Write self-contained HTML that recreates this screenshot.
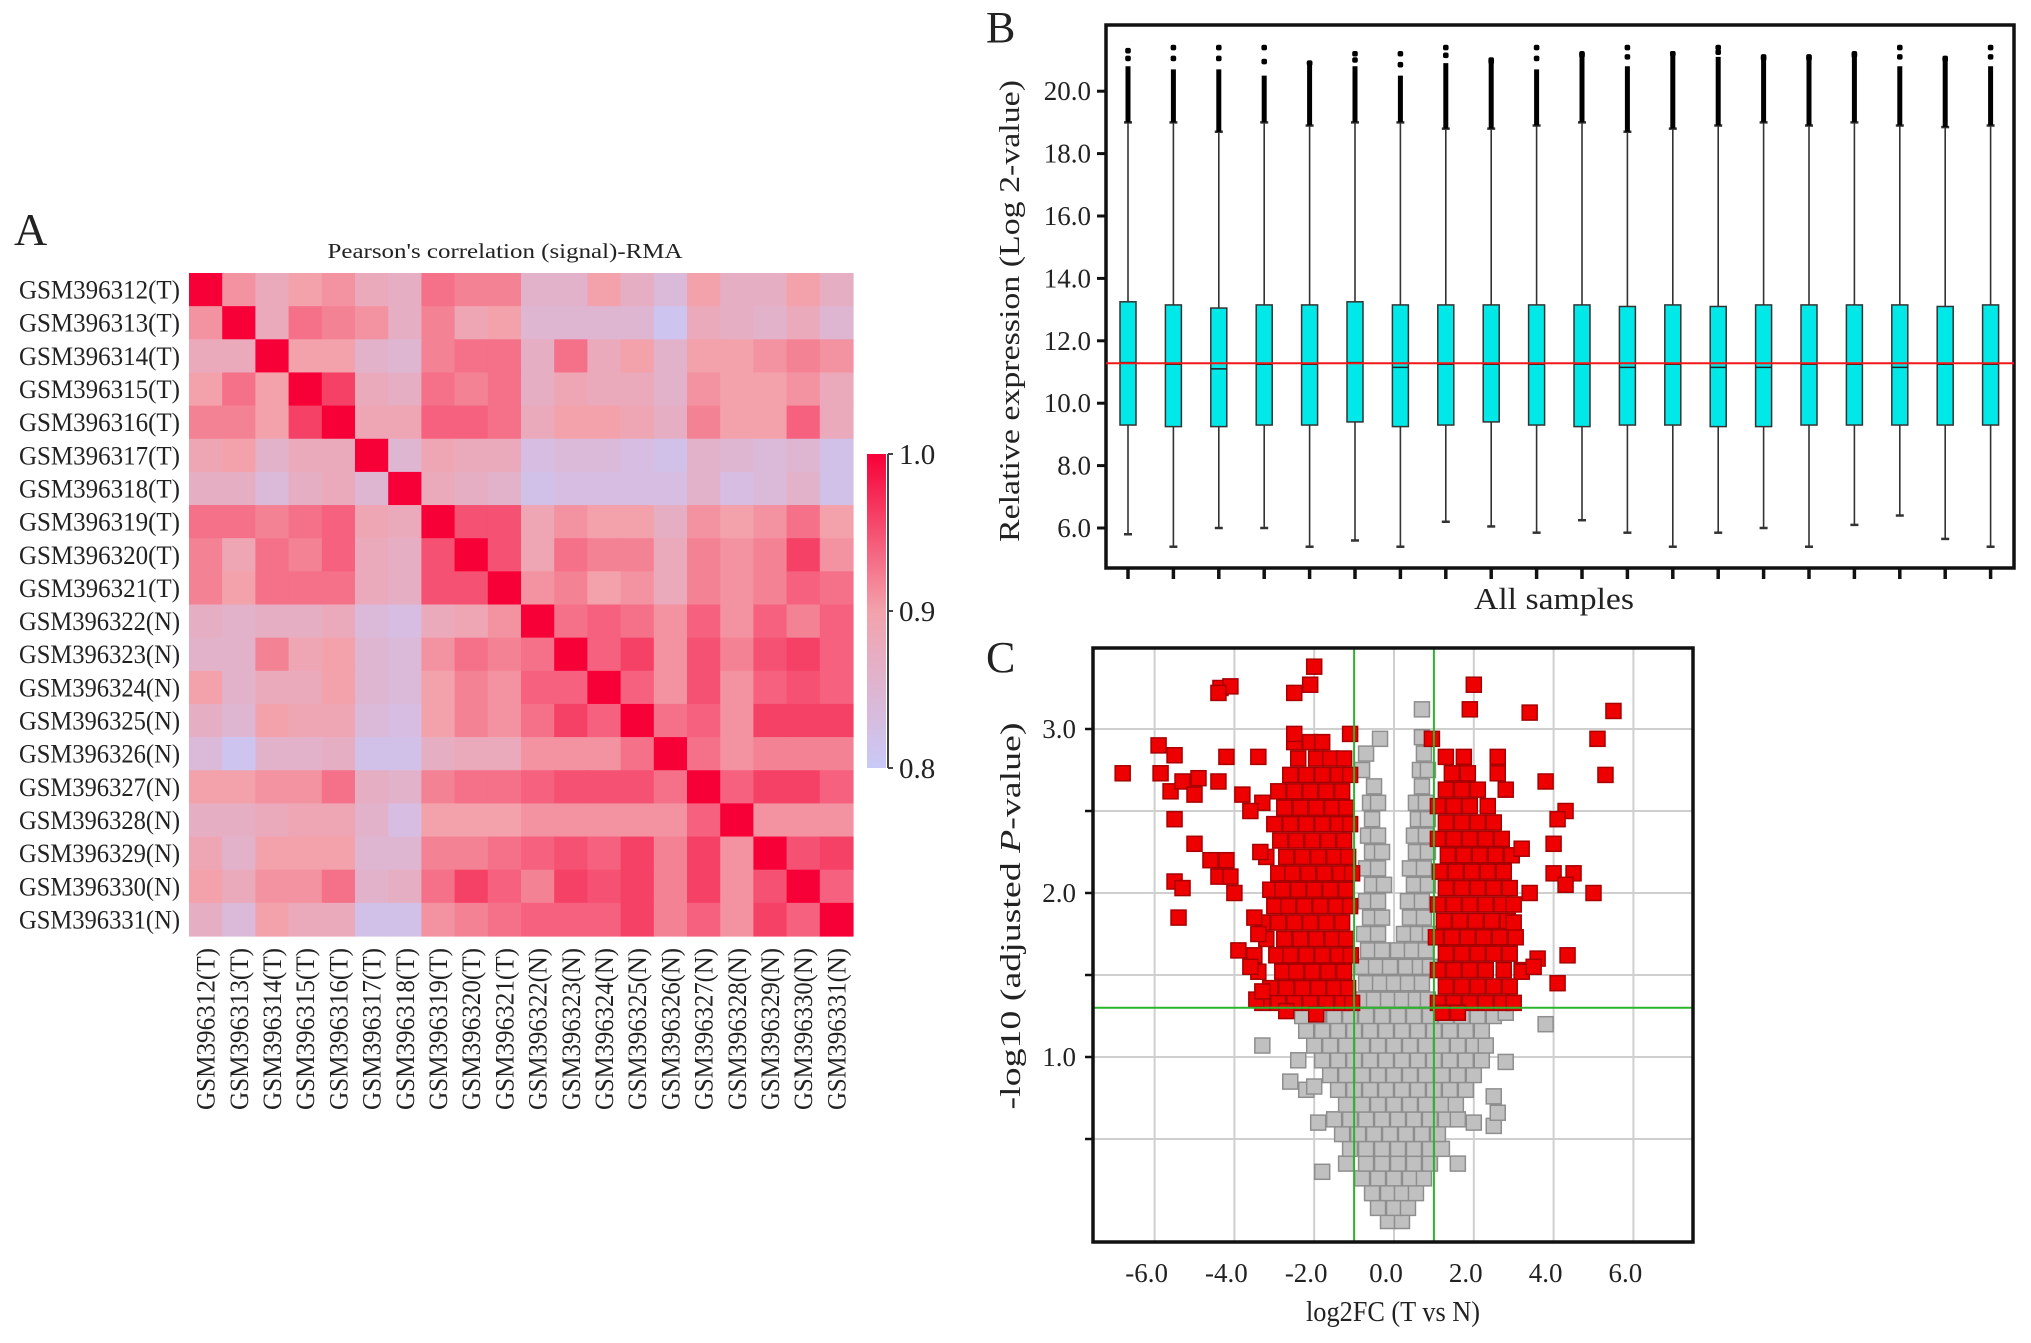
<!DOCTYPE html>
<html><head><meta charset="utf-8"><title>Figure</title>
<style>
html,body{margin:0;padding:0;background:#fff;}
svg{display:block;font-family:"Liberation Serif",serif;}
</style></head>
<body>
<svg id="fig" xmlns="http://www.w3.org/2000/svg" width="2031" height="1343" viewBox="0 0 2031 1343">
<rect x="0" y="0" width="2031" height="1343" fill="#fff"/>
<g id="pA"></g>
<g id="pB"></g>
<g id="pC"></g>
</svg>
<script>
// ===== Panel A data =====
const sampleLabels = ["GSM396312(T)","GSM396313(T)","GSM396314(T)","GSM396315(T)","GSM396316(T)","GSM396317(T)","GSM396318(T)","GSM396319(T)","GSM396320(T)","GSM396321(T)","GSM396322(N)","GSM396323(N)","GSM396324(N)","GSM396325(N)","GSM396326(N)","GSM396327(N)","GSM396328(N)","GSM396329(N)","GSM396330(N)","GSM396331(N)"];
const corrMatrix = [
[100,91,88,90,91,88,87,93,92,92,86,86,90,87,84,90,87,87,90,87],
[91,100,88,93,92,91,87,92,89,90,85,85,85,85,81,88,87,86,88,85],
[88,88,100,90,90,86,85,92,93,93,87,93,88,90,86,90,90,91,92,91],
[90,93,90,100,96,88,87,93,92,93,87,89,88,88,86,91,90,90,91,88],
[92,92,90,96,100,89,89,94,94,93,88,90,90,89,87,92,90,90,94,88],
[89,90,86,88,88,100,85,89,88,88,83,84,84,83,82,86,85,84,85,82],
[87,87,84,87,88,85,100,88,87,86,82,83,83,83,83,86,83,84,86,82],
[93,93,92,93,94,89,88,100,95,95,89,91,90,90,87,91,90,91,93,90],
[92,89,93,92,94,88,87,95,100,95,89,93,92,92,88,92,91,92,96,91],
[92,90,93,93,93,88,87,95,95,100,91,92,90,91,88,92,91,92,94,93],
[87,86,87,87,88,84,83,88,89,91,100,93,94,93,91,94,91,94,92,94],
[86,86,92,89,90,85,84,91,93,92,93,100,94,96,91,95,92,95,96,94],
[90,86,88,88,90,85,84,90,92,91,94,94,100,94,91,95,91,94,95,94],
[87,85,90,89,89,84,83,90,92,91,93,96,94,100,93,94,91,96,96,96],
[84,81,86,86,87,82,82,87,88,88,91,91,91,93,100,93,91,92,92,92],
[90,90,91,91,93,87,86,92,93,93,94,95,95,95,93,100,94,96,96,94],
[87,87,88,89,89,86,83,90,90,90,91,91,91,91,91,94,100,91,91,91],
[89,86,90,90,90,85,85,92,92,93,94,95,94,96,92,96,91,100,95,96],
[90,88,91,91,93,86,87,93,96,94,92,96,95,96,92,96,91,95,100,94],
[87,84,90,88,88,82,82,91,92,93,94,94,94,96,92,94,91,96,94,100]];
const colorbarTicks = [1.0, 0.9, 0.8];

// ===== Panel B data =====
const bQ1 = [9.3,9.25,9.25,9.3,9.3,9.4,9.25,9.3,9.4,9.3,9.25,9.3,9.3,9.25,9.25,9.3,9.3,9.3,9.3,9.3];
const bQ3 = [13.25,13.15,13.05,13.15,13.15,13.25,13.15,13.15,13.15,13.15,13.15,13.1,13.15,13.1,13.15,13.15,13.15,13.15,13.1,13.15];
const bMedian = [11.3,11.25,11.1,11.25,11.25,11.3,11.15,11.25,11.25,11.25,11.25,11.15,11.25,11.15,11.15,11.25,11.25,11.15,11.25,11.25];
const bWhiskLow = [5.8,5.4,6.0,6.0,5.4,5.6,5.4,6.2,6.05,5.85,6.25,5.85,5.4,5.85,6.0,5.4,6.1,6.4,5.65,5.4];
const bWhiskHigh = [19.0,19.0,18.7,19.0,18.9,19.0,19.0,18.8,18.8,18.9,19.0,18.7,18.8,18.9,19.0,18.9,19.0,18.9,18.85,18.9];
const bOutDense = [20.8,20.7,20.7,20.5,20.9,20.8,20.5,20.9,20.9,20.7,21.1,20.8,21.2,21.1,21.0,21.0,21.1,20.8,21.0,20.8];
const bOutMax = [21.3,21.4,21.4,21.4,20.9,21.2,21.2,21.4,21.0,21.4,21.2,21.4,21.2,21.4,21.1,21.1,21.2,21.4,21.05,21.4];
const bRefLine = 11.28;
const bYTicks = [6.0,8.0,10.0,12.0,14.0,16.0,18.0,20.0];

// ===== Panel C data =====
const cXTicks = [-6,-4,-2,0,2,4,6];
const cYTicks = [1.0,2.0,3.0];
const cYGrid = [0.5,1.0,1.5,2.0,2.5,3.0];
const cFcCut = [-1, 1];
const cPCut = 1.3;
const grayPoints = [
[-0.15,0.0],[0.2,0.0],
[-0.4,0.08],[0.0,0.08],[0.35,0.08],
[-0.55,0.17],[-0.15,0.17],[0.2,0.17],[0.55,0.17],
[-0.8,0.26],[-0.4,0.26],[0.0,0.26],[0.4,0.26],[0.75,0.26],
[-1.2,0.35],[-0.7,0.35],[-0.3,0.35],[0.1,0.35],[0.5,0.35],[0.9,0.35],[1.6,0.35],[-1.8,0.3],
[-1.1,0.44],[-0.7,0.44],[-0.3,0.44],[0.1,0.44],[0.5,0.44],[0.9,0.44],[1.2,0.44],
[-1.3,0.53],[-0.9,0.53],[-0.5,0.53],[-0.1,0.53],[0.3,0.53],[0.7,0.53],[1.1,0.53],[2.5,0.58],
[-1.5,0.62],[-1.1,0.62],[-0.7,0.62],[-0.3,0.62],[0.1,0.62],[0.5,0.62],[0.9,0.62],[1.3,0.62],[1.6,0.62],[-1.9,0.6],[2.0,0.6],[2.6,0.66],
[-1.2,0.71],[-0.8,0.71],[-0.4,0.71],[0.0,0.71],[0.4,0.71],[0.8,0.71],[1.2,0.71],[1.55,0.71],[2.5,0.76],
[-2.2,0.8],[-1.4,0.8],[-1.0,0.8],[-0.6,0.8],[-0.2,0.8],[0.2,0.8],[0.6,0.8],[1.0,0.8],[1.4,0.8],[1.8,0.8],[-2.6,0.85],[-2.0,0.82],
[-1.6,0.89],[-1.2,0.89],[-0.8,0.89],[-0.4,0.89],[0.0,0.89],[0.4,0.89],[0.8,0.89],[1.2,0.89],[1.6,0.89],[2.0,0.89],
[-2.4,0.98],[-1.8,0.98],[-1.4,0.98],[-1.0,0.98],[-0.6,0.98],[-0.2,0.98],[0.2,0.98],[0.6,0.98],[1.0,0.98],[1.4,0.98],[1.8,0.98],[2.2,0.98],[2.8,0.97],
[-3.3,1.07],[-2.0,1.07],[-1.6,1.07],[-1.2,1.07],[-0.8,1.07],[-0.4,1.07],[0.0,1.07],[0.4,1.07],[0.8,1.07],[1.2,1.07],[1.6,1.07],[2.0,1.07],[2.3,1.07],
[-2.2,1.16],[-1.8,1.16],[-1.4,1.16],[-1.0,1.16],[-0.6,1.16],[-0.2,1.16],[0.2,1.16],[0.6,1.16],[1.0,1.16],[1.4,1.16],[1.8,1.16],[2.2,1.16],[3.8,1.2],
[-2.3,1.25],[-1.9,1.25],[-1.5,1.25],[-1.1,1.25],[-0.7,1.25],[-0.3,1.25],[0.1,1.25],[0.5,1.25],[0.9,1.25],[1.3,1.25],[1.7,1.25],[2.1,1.25],[2.5,1.25],[2.8,1.27],
[-0.85,1.35],[-0.5,1.35],[-0.15,1.35],[0.2,1.35],[0.55,1.35],[0.85,1.35],
[-0.7,1.45],[-0.35,1.45],[0.0,1.45],[0.35,1.45],[0.7,1.45],
[-0.8,1.55],[-0.45,1.55],[-0.1,1.55],[0.3,1.55],[0.65,1.55],[0.9,1.55],
[-0.65,1.65],[-0.3,1.65],[0.1,1.65],[0.45,1.65],[0.8,1.65],
[-0.75,1.75],[-0.4,1.75],[0.25,1.75],[0.6,1.75],[0.9,1.75],
[-0.6,1.85],[-0.3,1.85],[0.4,1.85],[0.75,1.85],
[-0.7,1.95],[-0.4,1.95],[0.35,1.95],[0.7,1.95],
[-0.55,2.05],[-0.25,2.05],[0.5,2.05],[0.85,2.05],
[-0.7,2.15],[-0.4,2.15],[0.4,2.15],[0.75,2.15],
[-0.55,2.25],[-0.3,2.25],[0.55,2.25],[0.85,2.25],
[-0.65,2.35],[-0.4,2.35],[0.5,2.35],[0.8,2.35],
[-0.55,2.45],[0.6,2.45],[0.85,2.45],
[-0.6,2.55],[-0.4,2.55],[0.55,2.55],[0.8,2.55],
[-0.5,2.65],[0.7,2.65],
[-0.8,2.75],[0.65,2.75],[0.85,2.75],
[-0.7,2.85],[0.75,2.85],
[-0.35,2.94],[0.7,2.95],[0.7,3.12]];
const redPoints = [
[-3.3,1.33],[-2.9,1.33],[-2.5,1.33],[-2.1,1.33],[-1.7,1.33],[-1.3,1.33],[-1.05,1.33],
[-3.1,1.42],[-2.7,1.42],[-2.3,1.42],[-1.9,1.42],[-1.5,1.42],[-1.15,1.42],
[-3.4,1.52],[-2.8,1.52],[-2.45,1.52],[-2.05,1.52],[-1.65,1.52],[-1.25,1.52],
[-3.5,1.62],[-2.95,1.62],[-2.6,1.62],[-2.2,1.62],[-1.8,1.62],[-1.4,1.62],[-1.08,1.62],
[-3.2,1.72],[-2.75,1.72],[-2.35,1.72],[-1.95,1.72],[-1.55,1.72],[-1.2,1.72],
[-3.3,1.82],[-2.9,1.82],[-2.5,1.82],[-2.1,1.82],[-1.7,1.82],[-1.3,1.82],
[-3.0,1.92],[-2.65,1.92],[-2.25,1.92],[-1.85,1.92],[-1.45,1.92],[-1.1,1.92],
[-3.1,2.02],[-2.8,2.02],[-2.4,2.02],[-2.0,2.02],[-1.6,2.02],[-1.2,2.02],
[-2.9,2.12],[-2.55,2.12],[-2.15,2.12],[-1.75,2.12],[-1.35,2.12],[-1.05,2.12],
[-3.2,2.22],[-2.7,2.22],[-2.3,2.22],[-1.9,2.22],[-1.5,2.22],[-1.15,2.22],
[-2.85,2.32],[-2.45,2.32],[-2.05,2.32],[-1.65,2.32],[-1.25,2.32],
[-3.0,2.42],[-2.6,2.42],[-2.2,2.42],[-1.8,2.42],[-1.4,2.42],[-1.1,2.42],
[-2.75,2.52],[-2.35,2.52],[-1.95,2.52],[-1.55,2.52],[-1.2,2.52],
[-2.9,2.62],[-2.5,2.62],[-2.1,2.62],[-1.7,2.62],[-1.3,2.62],
[-2.6,2.72],[-2.2,2.72],[-1.8,2.72],[-1.4,2.72],[-1.1,2.72],
[-2.4,2.82],[-1.95,2.82],[-1.6,2.82],[-1.25,2.82],
[-2.5,2.92],[-2.1,2.92],[-1.8,2.92],
[-6.8,2.73],[-5.9,2.9],[-5.5,2.84],[-5.85,2.73],[-5.6,2.62],[-5.3,2.68],[-4.9,2.7],[-5.0,2.6],[-5.5,2.45],[-5.0,2.3],
[-4.6,2.2],[-4.4,2.1],[-4.2,2.2],[-5.5,2.07],[-5.3,2.03],[-5.4,1.85],[-4.0,2.0],[-4.1,2.1],[-3.9,1.65],[-3.6,1.55],
[-3.8,2.6],[-4.4,2.68],[-4.2,2.83],[-3.4,2.83],[-4.35,3.25],[-4.1,3.26],[-4.4,3.22],[-2.5,3.22],[-2.1,3.27],[-2.0,3.38],
[-2.5,2.97],[-1.1,2.97],[-3.3,2.55],[-3.6,2.5],[-3.35,2.25],[-3.5,1.85],[-3.4,1.75],[-3.45,1.35],[-3.3,1.4],[-2.7,1.28],[-1.95,1.26],
[1.1,1.33],[1.5,1.33],[1.9,1.33],[2.3,1.33],[2.7,1.33],[3.0,1.33],
[1.3,1.43],[1.7,1.43],[2.1,1.43],[2.5,1.43],[2.9,1.43],
[1.1,1.53],[1.5,1.53],[1.9,1.53],[2.3,1.53],[2.75,1.53],[3.2,1.53],
[1.3,1.63],[1.7,1.63],[2.1,1.63],[2.5,1.63],[2.9,1.63],
[1.05,1.73],[1.45,1.73],[1.85,1.73],[2.25,1.73],[2.65,1.73],[3.05,1.73],
[1.25,1.83],[1.65,1.83],[2.05,1.83],[2.45,1.83],[2.85,1.83],
[1.1,1.93],[1.5,1.93],[1.9,1.93],[2.3,1.93],[2.7,1.93],[3.0,1.93],
[1.3,2.03],[1.7,2.03],[2.1,2.03],[2.5,2.03],[2.9,2.03],
[1.15,2.13],[1.55,2.13],[1.95,2.13],[2.35,2.13],[2.75,2.13],
[1.35,2.23],[1.75,2.23],[2.15,2.23],[2.55,2.23],[2.95,2.23],
[1.1,2.33],[1.5,2.33],[1.9,2.33],[2.3,2.33],[2.7,2.33],
[1.3,2.43],[1.7,2.43],[2.1,2.43],[2.5,2.43],
[1.1,2.53],[1.5,2.53],[1.9,2.53],[2.35,2.53],
[1.3,2.63],[1.7,2.63],[2.1,2.63],[2.8,2.63],
[1.45,2.73],[1.85,2.73],[2.6,2.73],
[1.3,2.83],[1.75,2.83],[2.6,2.83],
[0.95,2.94],[1.9,3.12],[2.0,3.27],[3.4,3.1],[5.5,3.11],[5.1,2.94],[5.3,2.72],[3.8,2.68],[4.3,2.5],[4.1,2.45],
[4.0,2.3],[4.0,2.12],[4.5,2.12],[4.3,2.05],[5.0,2.0],[3.4,2.0],[3.6,1.6],[4.35,1.62],[4.1,1.45],[3.2,1.52],
[3.5,1.55],[3.0,1.82],[3.2,2.27],[1.2,1.27],[1.6,1.27]];

const NS = "http://www.w3.org/2000/svg";
function mk(tag, parent, attrs) {
  const e = document.createElementNS(NS, tag);
  for (const k in attrs) e.setAttribute(k, attrs[k]);
  parent.appendChild(e);
  return e;
}
function txt(parent, x, y, s, size, anchor, extra) {
  const t = mk("text", parent, Object.assign({x:x, y:y, "font-size":size, "text-anchor":anchor||"start", fill:"#222"}, extra||{}));
  t.textContent = s;
  return t;
}
const svg = document.getElementById("fig");

// ===== Panel letters =====
let L;
L = txt(svg, 14, 245, "A", 46);


L = txt(svg, 986, 42, "B", 44);


L = txt(svg, 986, 672, "C", 44);



// ===== Panel A =====
(function(){
  const g = document.getElementById("pA");
  const hx0 = 189, hy0 = 273, hx1 = 853, hy1 = 936;
  const n = sampleLabels.length;
  const cw = (hx1 - hx0) / n, ch = (hy1 - hy0) / n;
  const c08=[201,201,247], c09=[243,162,172], c10=[247,0,56];
  function colorOf(v){
    let t = Math.max(0, Math.min(1, (v - 0.8) / 0.2));
    let a, b, f;
    if (t < 0.5) { a = c08; b = c09; f = t / 0.5; } else { a = c09; b = c10; f = (t - 0.5) / 0.5; }
    const c = a.map((x,i) => Math.round(x + (b[i]-x)*f));
    return "rgb(" + c.join(",") + ")";
  }
  const title = txt(g, 505, 258, "Pearson's correlation (signal)-RMA", 21, "middle", {textLength:355, lengthAdjust:"spacingAndGlyphs"});
  
  
  for (let r = 0; r < n; r++) {
    for (let c = 0; c < n; c++) {
      const cell = mk("rect", g, {x: hx0 + c*cw, y: hy0 + r*ch, width: cw + 0.6, height: ch + 0.6, fill: colorOf(corrMatrix[r][c] / 100)});
      
      
    }
  }
  for (let i = 0; i < n; i++) {
    const rl = txt(g, 180, hy0 + (i + 0.5)*ch + 9, sampleLabels[i], 26, "end", {textLength:161, lengthAdjust:"spacingAndGlyphs"});
    
    
    const cx = hx0 + (i + 0.5)*cw + 9;
    const cl = txt(g, cx, 948, sampleLabels[i], 26, "end", {textLength:162, lengthAdjust:"spacingAndGlyphs", transform:"rotate(-90 " + cx + " 948)"});
    
    
  }
  const by0 = 454, by1 = 768, bx = 867, bw = 19;
  const defs = mk("defs", g, {});
  const grad = mk("linearGradient", defs, {id:"cbGrad", x1:0, y1:0, x2:0, y2:1});
  mk("stop", grad, {offset:"0", "stop-color":colorOf(1.0)});
  mk("stop", grad, {offset:"0.5", "stop-color":colorOf(0.9)});
  mk("stop", grad, {offset:"1", "stop-color":colorOf(0.8)});
  const cb = mk("rect", g, {x:bx, y:by0, width:bw, height:by1-by0, fill:"url(#cbGrad)"});
  
  
  mk("line", g, {x1:bx+bw+2, y1:by0, x2:bx+bw+2, y2:by1, stroke:"#444", "stroke-width":2});
  colorbarTicks.forEach(v => {
    const y = by1 - (v - 0.8) / 0.2 * (by1 - by0);
    mk("line", g, {x1:bx+bw+2, y1:y, x2:bx+bw+7, y2:y, stroke:"#444", "stroke-width":2});
    const t = txt(g, 899, y + 10, v.toFixed(1), 29, "start");
    
    
  });
})();

// ===== Panel B =====
(function(){
  const g = document.getElementById("pB");
  const fx0 = 1106, fy0 = 25, fx1 = 2014, fy1 = 568;
  const yS = v => 528 - (v - 6) * 31.2;
  const xS = i => 1128 + i * 45.4;
  const frame = mk("rect", g, {x:fx0, y:fy0, width:fx1-fx0, height:fy1-fy0, fill:"none", stroke:"#111", "stroke-width":3.5});
  
  
  bYTicks.forEach(v => {
    mk("line", g, {x1:fx0-9, y1:yS(v), x2:fx0, y2:yS(v), stroke:"#111", "stroke-width":3});
    const t = txt(g, 1091, yS(v) + 9, v.toFixed(1), 27, "end");
    
    
  });
  const yt = txt(g, 0, 0, "Relative expression (Log 2-value)", 29, "middle", {textLength:462, lengthAdjust:"spacingAndGlyphs", transform:"translate(1019 311) rotate(-90)"});
  
  
  const xt = txt(g, 1554, 609, "All samples", 31, "middle", {textLength:160, lengthAdjust:"spacingAndGlyphs"});
  
  
  for (let i = 0; i < bQ1.length; i++) {
    const x = xS(i), hw = 8;
    const grp = mk("g", g, {});
    
    
    mk("line", grp, {x1:x, y1:fy1, x2:x, y2:fy1+11, stroke:"#111", "stroke-width":3.5});
    mk("line", grp, {x1:x, y1:yS(bWhiskLow[i]), x2:x, y2:yS(bWhiskHigh[i]), stroke:"#333", "stroke-width":1.6});
    mk("line", grp, {x1:x-4, y1:yS(bWhiskLow[i]), x2:x+4, y2:yS(bWhiskLow[i]), stroke:"#333", "stroke-width":2.5});
    mk("line", grp, {x1:x-4, y1:yS(bWhiskHigh[i]), x2:x+4, y2:yS(bWhiskHigh[i]), stroke:"#333", "stroke-width":2.5});
    mk("line", grp, {x1:x, y1:yS(bWhiskHigh[i]), x2:x, y2:yS(bOutDense[i]), stroke:"#000", "stroke-width":5});
    mk("rect", grp, {x:x-2.8, y:yS(bOutMax[i])-2.8, width:5.6, height:5.6, rx:2, fill:"#000"});
    mk("rect", grp, {x:x-2.8, y:(yS(bOutMax[i])+yS(bOutDense[i]))/2-2.8, width:5.6, height:5.6, rx:2, fill:"#000"});
    mk("rect", grp, {x:x-hw, y:yS(bQ3[i]), width:2*hw, height:yS(bQ1[i])-yS(bQ3[i]), fill:"#00e8e8", stroke:"#333", "stroke-width":1.5});
    mk("line", grp, {x1:x-hw, y1:yS(bMedian[i]), x2:x+hw, y2:yS(bMedian[i]), stroke:"#222", "stroke-width":1.5});
  }
  const ref = mk("line", g, {x1:fx0, y1:yS(bRefLine), x2:fx1, y2:yS(bRefLine), stroke:"#f01818", "stroke-width":2});
  
  
})();

// ===== Panel C =====
(function(){
  const g = document.getElementById("pC");
  const fx0 = 1093, fy0 = 648, fx1 = 1693, fy1 = 1242;
  const xS = v => 1394 + v * 39.9;
  const yS = v => 1057 - (v - 1) * 164;
  const clip = mk("clipPath", g, {id:"cClip"});
  mk("rect", clip, {x:fx0, y:fy0, width:fx1-fx0, height:fy1-fy0});
  const plot = mk("g", g, {"clip-path":"url(#cClip)"});
  cXTicks.forEach(v => {
    const gl = mk("line", plot, {x1:xS(v), y1:fy0, x2:xS(v), y2:fy1, stroke:"#cfcfcf", "stroke-width":2});
    
    
  });
  cYGrid.forEach(v => {
    const gl = mk("line", plot, {x1:fx0, y1:yS(v), x2:fx1, y2:yS(v), stroke:"#cfcfcf", "stroke-width":2});
    
    
    mk("line", g, {x1:fx0-8, y1:yS(v), x2:fx0, y2:yS(v), stroke:"#111", "stroke-width":2.5});
  });
  const sq = 15;
  grayPoints.forEach(p => {
    const r = mk("rect", plot, {x:xS(p[0])-sq/2, y:yS(p[1])-sq/2, width:sq, height:sq, fill:"#c0c0c0", stroke:"#8e8e8e", "stroke-width":1.5});
    
    
  });
  redPoints.forEach(p => {
    const r = mk("rect", plot, {x:xS(p[0])-sq/2, y:yS(p[1])-sq/2, width:sq, height:sq, fill:"#ee0000", stroke:"#a80000", "stroke-width":1.5});
    
    
  });
  cFcCut.forEach(v => {
    const l = mk("line", plot, {x1:xS(v), y1:fy0, x2:xS(v), y2:fy1, stroke:"#2cb52c", "stroke-width":2});
    
    
  });
  const hl = mk("line", plot, {x1:fx0, y1:yS(cPCut), x2:fx1, y2:yS(cPCut), stroke:"#2cb52c", "stroke-width":2});
  
  
  const frame = mk("rect", g, {x:fx0, y:fy0, width:fx1-fx0, height:fy1-fy0, fill:"none", stroke:"#111", "stroke-width":3.5});
  
  
  cXTicks.forEach(v => {
    const t = txt(g, xS(v) - 8, 1282, v.toFixed(1), 27, "middle");
    
    
  });
  cYTicks.forEach(v => {
    const t = txt(g, 1076, yS(v) + 9, v.toFixed(1), 27, "end");
    
    
  });
  const xt = txt(g, 1393, 1321, "log2FC (T vs N)", 29, "middle", {textLength:174, lengthAdjust:"spacingAndGlyphs"});
  
  
  const yt = mk("text", g, {transform:"translate(1020 916) rotate(-90)", "font-size":28, "text-anchor":"middle", fill:"#222", textLength:387, lengthAdjust:"spacingAndGlyphs"});
  
  
  yt.appendChild(document.createTextNode("-log10 (adjusted "));
  const it = mk("tspan", yt, {"font-style":"italic"});
  it.textContent = "P";
  yt.appendChild(document.createTextNode("-value)"));
})();
</script>
</body></html>
